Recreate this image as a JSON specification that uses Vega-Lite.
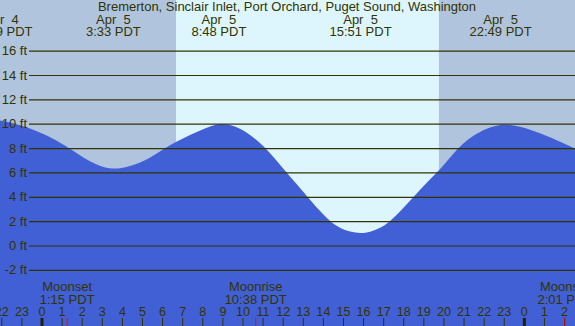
{
  "$schema": "https://vega.github.io/schema/vega-lite/v6.json",
  "width": 575,
  "height": 326,
  "autosize": "none",
  "padding": 0,
  "background": "#b0c4de",
  "config": {
    "view": {"stroke": null},
    "text": {"font": "Liberation Sans", "fontSize": 13, "color": "#333300"}
  },
  "datasets": {
    "tide": [
      {"t": -2.09, "ft": 10.31}, {"t": -1.34, "ft": 10.07}, {"t": -0.60, "ft": 9.67},
      {"t": 0.15, "ft": 9.15}, {"t": 0.90, "ft": 8.5}, {"t": 1.39, "ft": 8.0},
      {"t": 1.89, "ft": 7.45}, {"t": 2.39, "ft": 6.93}, {"t": 2.89, "ft": 6.55},
      {"t": 3.53, "ft": 6.30}, {"t": 4.13, "ft": 6.43}, {"t": 4.88, "ft": 6.82},
      {"t": 5.47, "ft": 7.33}, {"t": 6.02, "ft": 7.95}, {"t": 6.67, "ft": 8.55},
      {"t": 7.26, "ft": 9.03}, {"t": 7.86, "ft": 9.47}, {"t": 8.36, "ft": 9.82},
      {"t": 8.86, "ft": 10.07}, {"t": 9.35, "ft": 9.96}, {"t": 9.85, "ft": 9.65},
      {"t": 10.35, "ft": 9.15}, {"t": 10.85, "ft": 8.45}, {"t": 11.14, "ft": 8.0},
      {"t": 11.49, "ft": 7.35}, {"t": 11.84, "ft": 6.68}, {"t": 12.14, "ft": 6.1},
      {"t": 12.49, "ft": 5.42}, {"t": 12.84, "ft": 4.75}, {"t": 13.23, "ft": 4.0},
      {"t": 13.78, "ft": 2.95}, {"t": 14.33, "ft": 2.0}, {"t": 14.83, "ft": 1.45},
      {"t": 15.32, "ft": 1.15}, {"t": 15.87, "ft": 1.03}, {"t": 16.32, "ft": 1.14},
      {"t": 16.82, "ft": 1.45}, {"t": 17.31, "ft": 2.0}, {"t": 17.86, "ft": 2.9},
      {"t": 18.46, "ft": 4.0}, {"t": 19.05, "ft": 5.05}, {"t": 19.70, "ft": 6.12},
      {"t": 20.15, "ft": 6.95}, {"t": 20.65, "ft": 7.95}, {"t": 21.19, "ft": 8.78},
      {"t": 21.79, "ft": 9.38}, {"t": 22.29, "ft": 9.76}, {"t": 22.82, "ft": 9.99},
      {"t": 23.28, "ft": 9.95}, {"t": 23.78, "ft": 9.8}, {"t": 24.28, "ft": 9.55},
      {"t": 24.78, "ft": 9.26}, {"t": 25.27, "ft": 8.93}, {"t": 25.77, "ft": 8.57},
      {"t": 26.52, "ft": 8.0}
    ],
    "day": [{"start": 6.667, "end": 19.75}],
    "grid": [
      {"ft": -2, "label": "-2 ft"}, {"ft": 0, "label": "0 ft"}, {"ft": 2, "label": "2 ft"},
      {"ft": 4, "label": "4 ft"}, {"ft": 6, "label": "6 ft"}, {"ft": 8, "label": "8 ft"},
      {"ft": 10, "label": "10 ft"}, {"ft": 12, "label": "12 ft"}, {"ft": 14, "label": "14 ft"},
      {"ft": 16, "label": "16 ft"}
    ],
    "extremes": [
      {"t": -2.02, "date": "Apr\u00a0 4", "time": "21:59 PDT"},
      {"t": 3.55, "date": "Apr\u00a0 5", "time": "3:33 PDT"},
      {"t": 8.8, "date": "Apr\u00a0 5", "time": "8:48 PDT"},
      {"t": 15.85, "date": "Apr\u00a0 5", "time": "15:51 PDT"},
      {"t": 22.817, "date": "Apr\u00a0 5", "time": "22:49 PDT"}
    ],
    "moon": [
      {"t": 1.25, "event": "Moonset", "time": "1:15 PDT"},
      {"t": 10.633, "event": "Moonrise", "time": "10:38 PDT"},
      {"t": 26.017, "event": "Moonset", "time": "2:01 PDT"}
    ],
    "hours": [
      {"t": -2, "hr": 22}, {"t": -1, "hr": 23}, {"t": 0, "hr": 0}, {"t": 1, "hr": 1},
      {"t": 2, "hr": 2}, {"t": 3, "hr": 3}, {"t": 4, "hr": 4}, {"t": 5, "hr": 5},
      {"t": 6, "hr": 6}, {"t": 7, "hr": 7}, {"t": 8, "hr": 8}, {"t": 9, "hr": 9},
      {"t": 10, "hr": 10}, {"t": 11, "hr": 11}, {"t": 12, "hr": 12}, {"t": 13, "hr": 13},
      {"t": 14, "hr": 14}, {"t": 15, "hr": 15}, {"t": 16, "hr": 16}, {"t": 17, "hr": 17},
      {"t": 18, "hr": 18}, {"t": 19, "hr": 19}, {"t": 20, "hr": 20}, {"t": 21, "hr": 21},
      {"t": 22, "hr": 22}, {"t": 23, "hr": 23}, {"t": 24, "hr": 0}, {"t": 25, "hr": 1},
      {"t": 26, "hr": 2}
    ],
    "title": [{"t": 12.19, "text": "Bremerton, Sinclair Inlet, Port Orchard, Puget Sound, Washington"}]
  },
  "layer": [
    {
      "data": {"name": "day"},
      "mark": {"type": "rect", "color": "#ddf6fe"},
      "encoding": {
        "x": {"field": "start", "type": "quantitative", "scale": {"domain": [-2.09, 26.52], "nice": false, "zero": false}, "axis": null},
        "x2": {"field": "end"},
        "y": {"datum": 20.2, "type": "quantitative", "scale": {"domain": [-6.57, 20.2], "nice": false, "zero": false}, "axis": null},
        "y2": {"datum": -6.57}
      }
    },
    {
      "data": {"name": "tide"},
      "mark": {"type": "area", "color": "#4160d6", "interpolate": "basis"},
      "encoding": {
        "x": {"field": "t", "type": "quantitative", "axis": null},
        "y": {"field": "ft", "type": "quantitative", "axis": null},
        "y2": {"datum": -6.57}
      }
    },
    {
      "data": {"name": "grid"},
      "mark": {"type": "rule", "color": "#333300", "strokeWidth": 1.2},
      "encoding": {
        "x": {"datum": -0.647, "type": "quantitative"},
        "x2": {"datum": 26.52},
        "y": {"field": "ft", "type": "quantitative"}
      }
    },
    {
      "data": {"name": "grid"},
      "mark": {"type": "text", "align": "right", "baseline": "middle"},
      "encoding": {
        "x": {"datum": -0.746, "type": "quantitative"},
        "y": {"field": "ft", "type": "quantitative"},
        "text": {"field": "label"}
      }
    },
    {
      "data": {"name": "title"},
      "mark": {"type": "text", "align": "center", "baseline": "middle"},
      "encoding": {
        "x": {"field": "t", "type": "quantitative"},
        "y": {"datum": 19.6, "type": "quantitative"},
        "text": {"field": "text"}
      }
    },
    {
      "data": {"name": "extremes"},
      "mark": {"type": "text", "align": "center", "baseline": "middle"},
      "encoding": {
        "x": {"field": "t", "type": "quantitative"},
        "y": {"datum": 18.55, "type": "quantitative"},
        "text": {"field": "date"}
      }
    },
    {
      "data": {"name": "extremes"},
      "mark": {"type": "text", "align": "center", "baseline": "middle"},
      "encoding": {
        "x": {"field": "t", "type": "quantitative"},
        "y": {"datum": 17.61, "type": "quantitative"},
        "text": {"field": "time"}
      }
    },
    {
      "data": {"name": "moon"},
      "mark": {"type": "text", "align": "center", "baseline": "middle"},
      "encoding": {
        "x": {"field": "t", "type": "quantitative"},
        "y": {"datum": -3.37, "type": "quantitative"},
        "text": {"field": "event"}
      }
    },
    {
      "data": {"name": "moon"},
      "mark": {"type": "text", "align": "center", "baseline": "middle"},
      "encoding": {
        "x": {"field": "t", "type": "quantitative"},
        "y": {"datum": -4.43, "type": "quantitative"},
        "text": {"field": "time"}
      }
    },
    {
      "data": {"name": "hours"},
      "mark": {"type": "text", "align": "center", "baseline": "middle", "fontSize": 12.6},
      "encoding": {
        "x": {"field": "t", "type": "quantitative"},
        "y": {"datum": -5.38, "type": "quantitative"},
        "text": {"field": "hr", "type": "quantitative"}
      }
    },
    {
      "data": {"name": "hours"},
      "transform": [{"filter": "datum.hr != 0"}],
      "mark": {"type": "rule", "color": "#333300", "strokeWidth": 1},
      "encoding": {
        "x": {"field": "t", "type": "quantitative"},
        "y": {"datum": -5.91, "type": "quantitative"},
        "y2": {"datum": -6.57}
      }
    },
    {
      "data": {"name": "hours"},
      "transform": [{"filter": "datum.hr == 0"}],
      "mark": {"type": "rule", "color": "#222200", "strokeWidth": 3},
      "encoding": {
        "x": {"field": "t", "type": "quantitative"},
        "y": {"datum": -5.91, "type": "quantitative"},
        "y2": {"datum": -6.57}
      }
    },
    {
      "data": {"name": "moon"},
      "mark": {"type": "rule", "color": "#ff0000", "strokeWidth": 1},
      "encoding": {
        "x": {"field": "t", "type": "quantitative"},
        "y": {"datum": -5.91, "type": "quantitative"},
        "y2": {"datum": -6.57}
      }
    }
  ]
}
